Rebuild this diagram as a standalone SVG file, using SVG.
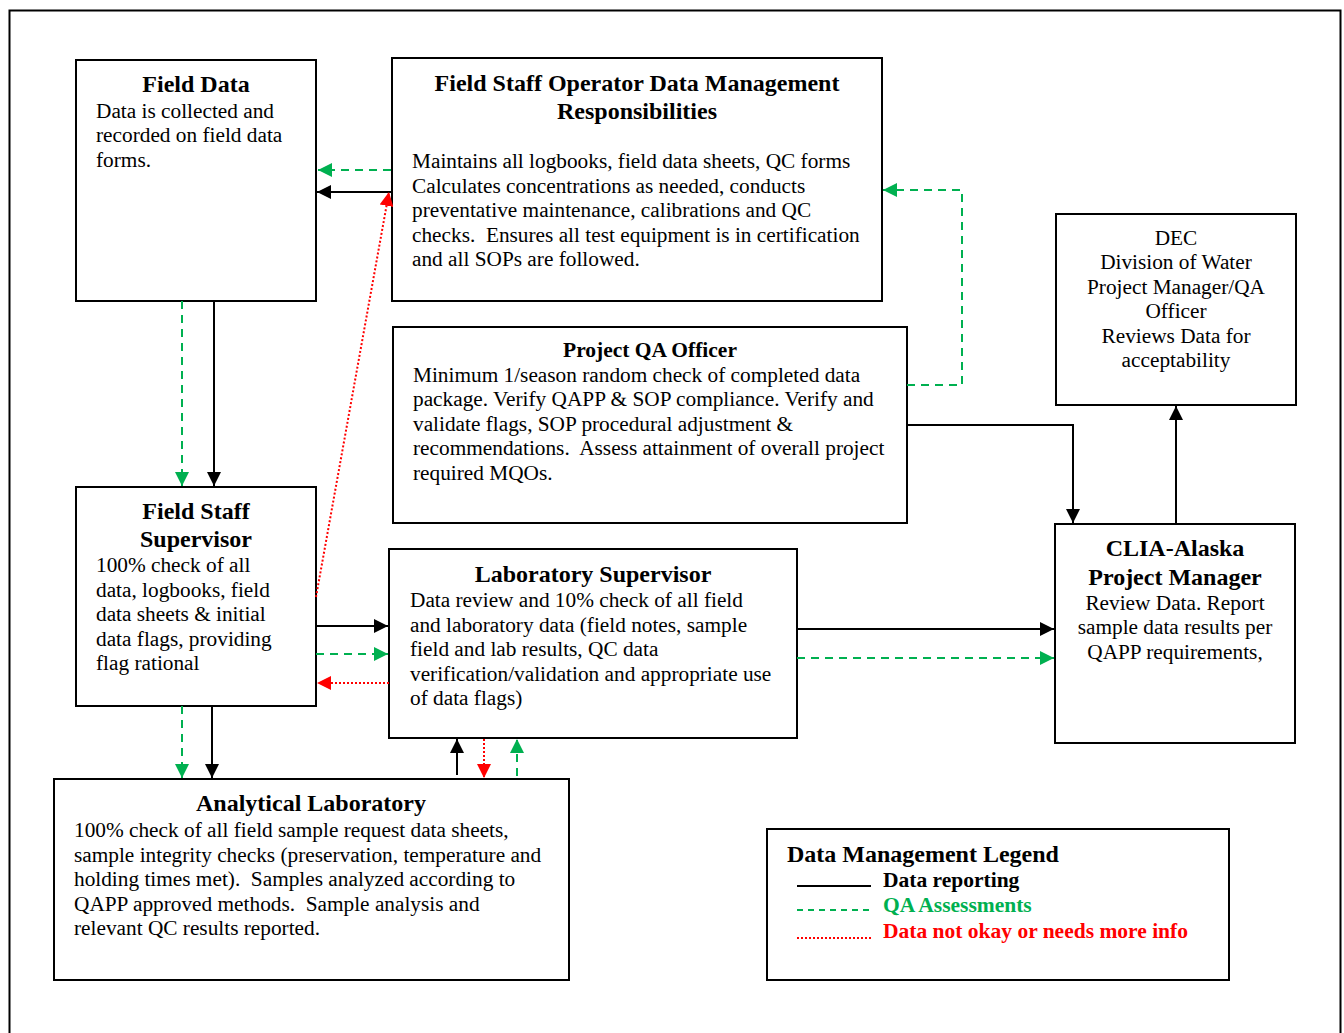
<svg xmlns="http://www.w3.org/2000/svg" width="1344" height="1033" viewBox="0 0 1344 1033">
<style>
text{font-family:"Liberation Serif","Times New Roman",serif;font-size:21.3px;fill:#000}
.t{font-weight:bold;font-size:24px}
.ts{font-weight:bold;font-size:21.5px}
.c{text-anchor:middle}
.box{fill:#fff;stroke:#000;stroke-width:2}
.k{stroke:#000;stroke-width:2;fill:none}
.g{stroke:#00B050;stroke-width:2;fill:none;stroke-dasharray:8 6}
.r{stroke:#FF0000;stroke-width:2;fill:none;stroke-dasharray:2 2}
</style>
<defs>
<marker id="ak" markerUnits="userSpaceOnUse" markerWidth="14" markerHeight="14" refX="14" refY="7" orient="auto"><path d="M0,0L14,7L0,14z" fill="#000"/></marker>
<marker id="ag" markerUnits="userSpaceOnUse" markerWidth="14" markerHeight="14" refX="14" refY="7" orient="auto"><path d="M0,0L14,7L0,14z" fill="#00B050"/></marker>
<marker id="ar" markerUnits="userSpaceOnUse" markerWidth="14" markerHeight="14" refX="14" refY="7" orient="auto"><path d="M0,0L14,7L0,14z" fill="#FF0000"/></marker>
</defs>
<rect x="0" y="0" width="1344" height="1033" fill="#fff"/>
<path d="M9.5,1040V10.5H1340.5V1040" fill="none" stroke="#000" stroke-width="2"/>

<g id="field-data">
<rect class="box" x="76" y="60" width="240" height="241"/>
<text class="t c" x="196" y="92">Field Data</text>
<text x="96" y="118">Data is collected and</text>
<text x="96" y="142">recorded on field data</text>
<text x="96" y="167">forms.</text>
</g>

<g id="field-staff-operator">
<rect class="box" x="392" y="58" width="490" height="243"/>
<text class="t c" x="637" y="91">Field Staff Operator Data Management</text>
<text class="t c" x="637" y="119">Responsibilities</text>
<text x="412" y="168">Maintains all logbooks, field data sheets, QC forms</text>
<text x="412" y="193">Calculates concentrations as needed, conducts</text>
<text x="412" y="217">preventative maintenance, calibrations and QC</text>
<text x="412" y="242" xml:space="preserve">checks.  Ensures all test equipment is in certification</text>
<text x="412" y="266">and all SOPs are followed.</text>
</g>

<g id="project-qa-officer">
<rect class="box" x="393" y="327" width="514" height="196"/>
<text class="ts c" x="650" y="357">Project QA Officer</text>
<text x="413" y="382">Minimum 1/season random check of completed data</text>
<text x="413" y="406">package. Verify QAPP &amp; SOP compliance. Verify and</text>
<text x="413" y="431">validate flags, SOP procedural adjustment &amp;</text>
<text x="413" y="455" xml:space="preserve">recommendations.  Assess attainment of overall project</text>
<text x="413" y="480">required MQOs.</text>
</g>

<g id="dec">
<rect class="box" x="1056" y="214" width="240" height="191"/>
<text class="c" x="1176" y="245">DEC</text>
<text class="c" x="1176" y="269">Division of Water</text>
<text class="c" x="1176" y="294">Project Manager/QA</text>
<text class="c" x="1176" y="318">Officer</text>
<text class="c" x="1176" y="343">Reviews Data for</text>
<text class="c" x="1176" y="367">acceptability</text>
</g>

<g id="field-staff-supervisor">
<rect class="box" x="76" y="487" width="240" height="219"/>
<text class="t c" x="196" y="519">Field Staff</text>
<text class="t c" x="196" y="547">Supervisor</text>
<text x="96" y="572">100% check of all</text>
<text x="96" y="597">data, logbooks, field</text>
<text x="96" y="621">data sheets &amp; initial</text>
<text x="96" y="646">data flags, providing</text>
<text x="96" y="670">flag rational</text>
</g>

<g id="laboratory-supervisor">
<rect class="box" x="389" y="549" width="408" height="189"/>
<text class="t c" x="593" y="582">Laboratory Supervisor</text>
<text x="410" y="607">Data review and 10% check of all field</text>
<text x="410" y="632">and laboratory data (field notes, sample</text>
<text x="410" y="656">field and lab results, QC data</text>
<text x="410" y="681">verification/validation and appropriate use</text>
<text x="410" y="705">of data flags)</text>
</g>

<g id="clia-alaska">
<rect class="box" x="1055" y="524" width="240" height="219"/>
<text class="t c" x="1175" y="556">CLIA-Alaska</text>
<text class="t c" x="1175" y="585">Project Manager</text>
<text class="c" x="1175" y="610">Review Data. Report</text>
<text class="c" x="1175" y="634">sample data results per</text>
<text class="c" x="1175" y="659">QAPP requirements,</text>
</g>

<g id="analytical-laboratory">
<rect class="box" x="54" y="779" width="515" height="201"/>
<text class="t c" x="311" y="811">Analytical Laboratory</text>
<text x="74" y="837">100% check of all field sample request data sheets,</text>
<text x="74" y="862">sample integrity checks (preservation, temperature and</text>
<text x="74" y="886" xml:space="preserve">holding times met).  Samples analyzed according to</text>
<text x="74" y="911" xml:space="preserve">QAPP approved methods.  Sample analysis and</text>
<text x="74" y="935">relevant QC results reported.</text>
</g>

<g id="legend">
<rect class="box" x="767" y="829" width="462" height="151"/>
<text class="t" x="787" y="862">Data Management Legend</text>
<line class="k" x1="797" y1="886" x2="871" y2="886"/>
<text class="ts" x="883" y="887">Data reporting</text>
<line class="g" x1="797" y1="910" x2="871" y2="910" style="stroke-dasharray:6 5"/>
<text class="ts" x="883" y="912" style="fill:#00B050">QA Assessments</text>
<line class="r" x1="797" y1="938" x2="871" y2="938"/>
<text class="ts" x="883" y="938" style="fill:#FF0000">Data not okay or needs more info</text>
</g>

<g id="connectors">
<line class="g" x1="391" y1="170" x2="318" y2="170" marker-end="url(#ag)"/>
<line class="k" x1="391" y1="192" x2="317" y2="192" marker-end="url(#ak)"/>
<line class="r" x1="316" y1="597" x2="389" y2="192" marker-end="url(#ar)"/>
<line class="g" x1="182" y1="301" x2="182" y2="486" marker-end="url(#ag)"/>
<line class="k" x1="214" y1="301" x2="214" y2="486" marker-end="url(#ak)"/>
<line class="k" x1="316" y1="626" x2="388" y2="626" marker-end="url(#ak)"/>
<line class="g" x1="316" y1="654" x2="388" y2="654" marker-end="url(#ag)"/>
<line class="r" x1="389" y1="683" x2="317" y2="683" marker-end="url(#ar)"/>
<line class="g" x1="182" y1="706" x2="182" y2="778" marker-end="url(#ag)"/>
<line class="k" x1="212" y1="706" x2="212" y2="778" marker-end="url(#ak)"/>
<line class="k" x1="457" y1="775" x2="457" y2="739" marker-end="url(#ak)"/>
<line class="r" x1="484" y1="739" x2="484" y2="778" marker-end="url(#ar)"/>
<line class="g" x1="517" y1="776" x2="517" y2="739" marker-end="url(#ag)"/>
<line class="k" x1="797" y1="629" x2="1054" y2="629" marker-end="url(#ak)"/>
<line class="g" x1="797" y1="658" x2="1054" y2="658" marker-end="url(#ag)"/>
<path class="g" d="M907,385H962V190H883" marker-end="url(#ag)"/>
<path class="k" d="M907,425H1073V523" marker-end="url(#ak)"/>
<line class="k" x1="1176" y1="524" x2="1176" y2="406" marker-end="url(#ak)"/>
</g>
</svg>
